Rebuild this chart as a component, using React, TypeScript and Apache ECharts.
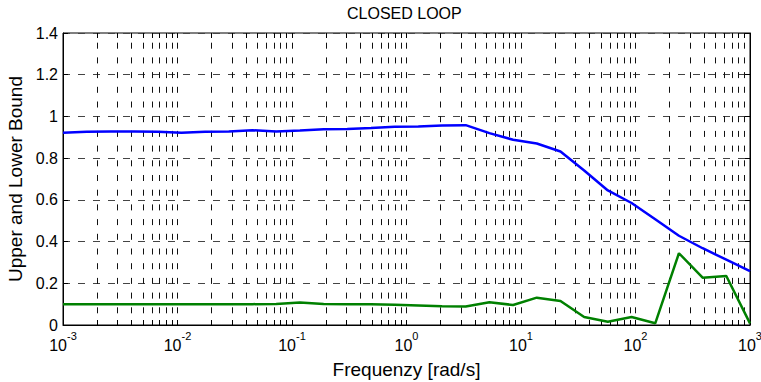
import React, { useEffect, useRef } from "react";
import * as echarts from "echarts";

// Frequency points [rad/s] (30 log-spaced samples between 1e-3 and 1e3)
const FREQUENCY = [
  0.001, 0.00161, 0.002593, 0.004175, 0.006723, 0.01083, 0.01743, 0.02807,
  0.0452, 0.07279, 0.1172, 0.1887, 0.3039, 0.4894, 0.788, 1.269, 2.043, 3.29,
  5.298, 8.532, 13.74, 22.12, 35.62, 57.36, 92.37, 148.7, 239.5, 385.7, 621.1,
  1000,
];

// Upper bound of the closed-loop response
const UPPER_BOUND = [
  0.922, 0.927, 0.928, 0.928, 0.927, 0.922, 0.926, 0.928, 0.934, 0.928, 0.932,
  0.938, 0.94, 0.945, 0.951, 0.952, 0.957, 0.958, 0.92, 0.888, 0.87, 0.832,
  0.741, 0.645, 0.585, 0.507, 0.428, 0.368, 0.313, 0.258,
];

// Lower bound of the closed-loop response
const LOWER_BOUND = [
  0.1, 0.1, 0.1, 0.1, 0.1, 0.1, 0.1, 0.1, 0.1, 0.101, 0.108, 0.101, 0.1, 0.099,
  0.097, 0.094, 0.09, 0.089, 0.109, 0.096, 0.131, 0.115, 0.038, 0.016, 0.038,
  0.008, 0.344, 0.227, 0.235, 0.008,
];

// Axis ranges and grid subdivisions
const X_DECADES = [1e-3, 1e-2, 1e-1, 1, 10, 100, 1000];
const X_GRID_MULTIPLIERS = [1, 2, 3, 4, 5, 6, 7, 8, 9];
const Y_MIN = 0;
const Y_MAX = 1.4;
const Y_STEP = 0.2;

const TITLE = "CLOSED LOOP";
const X_NAME = "Frequenzy [rad/s]";
const Y_NAME = "Upper and Lower Bound";

const FONT = "'Liberation Sans', Arial, Helvetica, sans-serif";

// Every 1..9 x 10^n position strictly inside the x range
const gridPositions: number[] = [];
X_DECADES.slice(0, -1).forEach((d, di) => {
  X_GRID_MULTIPLIERS.forEach((m) => {
    if (di === 0 && m === 1) return;
    gridPositions.push(m * d);
  });
});

export default function App() {
  const ref = useRef<HTMLDivElement>(null);

  useEffect(() => {
    const chart = echarts.init(ref.current!, null, { renderer: "svg" });

    const option: any = {
      animation: false,
      backgroundColor: "#fff",
      title: {
        text: TITLE,
        left: 347,
        top: 5,
        padding: 0,
        textStyle: {
          fontFamily: FONT,
          fontSize: 16,
          fontWeight: "normal",
          color: "#000",
        },
      },
      grid: {
        left: 63,
        top: 33,
        width: 687,
        height: 292,
        containLabel: false,
        outerBoundsMode: "none",
        show: true,
        borderColor: "#000",
        borderWidth: 1,
        backgroundColor: "transparent",
      },
      xAxis: {
        type: "log",
        logBase: 10,
        min: X_DECADES[0],
        max: X_DECADES[X_DECADES.length - 1],
        splitNumber: 6,
        name: X_NAME,
        nameLocation: "middle",
        nameGap: 35,
        nameTextStyle: { fontFamily: FONT, fontSize: 19, color: "#000" },
        axisLine: { show: true, lineStyle: { color: "#000", width: 1 } },
        axisTick: { show: false },
        minorTick: { show: false },
        splitLine: { show: false },
        axisLabel: {
          margin: 8,
          showMinLabel: true,
          showMaxLabel: true,
          hideOverlap: false,
          formatter: (v: number) => {
            const e = Math.round(Math.log10(v));
            return `{b|10}{s|${e}}`;
          },
          rich: {
            b: {
              fontFamily: FONT,
              fontSize: 16,
              lineHeight: 17,
              color: "#000",
              padding: [8, 0, 0, 0],
            },
            s: {
              fontFamily: FONT,
              fontSize: 11,
              lineHeight: 12,
              color: "#000",
              padding: [0, 0, 11, 0],
            },
          },
        },
      },
      yAxis: [
        {
          type: "value",
          min: Y_MIN,
          max: Y_MAX,
          interval: Y_STEP,
          name: Y_NAME,
          nameLocation: "middle",
          nameGap: 36,
          nameTextStyle: { fontFamily: FONT, fontSize: 19, color: "#000" },
          axisLine: { show: true, lineStyle: { color: "#000", width: 1 } },
          axisTick: {
            show: true,
            inside: true,
            length: 5,
            lineStyle: { color: "#000" },
          },
          axisLabel: {
            fontFamily: FONT,
            fontSize: 16,
            color: "#000",
            margin: 5,
          },
          splitLine: {
            show: true,
            lineStyle: { color: "#444", width: 1, type: [7, 8] },
          },
        },
        {
          type: "value",
          position: "right",
          min: Y_MIN,
          max: Y_MAX,
          interval: Y_STEP,
          axisLine: { show: true, lineStyle: { color: "#000", width: 1 } },
          axisTick: {
            show: true,
            inside: true,
            length: 5,
            lineStyle: { color: "#000" },
          },
          axisLabel: { show: false },
          splitLine: { show: false },
        },
      ],
      series: [
        {
          // vertical log grid lines with inward ticks at top and bottom
          type: "custom",
          silent: true,
          clip: false,
          z: 1,
          data: gridPositions.map((x) => [x, Y_MIN]),
          encode: { x: 0, y: 1 },
          renderItem: (params: any, api: any) => {
            const cs = params.coordSys;
            const raw = api.coord([api.value(0), Y_MIN])[0];
            const px = Math.round(raw - 0.5) + 0.5;
            const top = cs.y;
            const bottom = cs.y + cs.height;
            return {
              type: "group",
              children: [
                {
                  type: "line",
                  shape: { x1: px, y1: bottom, x2: px, y2: top },
                  style: {
                    stroke: "#111",
                    lineWidth: 1,
                    lineDash: [6, 8.7],
                    lineDashOffset: 3,
                  },
                },
                {
                  type: "line",
                  shape: { x1: px, y1: bottom, x2: px, y2: bottom - 5 },
                  style: { stroke: "#000", lineWidth: 1 },
                },
                {
                  type: "line",
                  shape: { x1: px, y1: top, x2: px, y2: top + 5 },
                  style: { stroke: "#000", lineWidth: 1 },
                },
              ],
            };
          },
        },
        {
          name: "Upper bound",
          type: "line",
          data: FREQUENCY.map((f, i) => [f, UPPER_BOUND[i]]),
          symbol: "none",
          showSymbol: false,
          z: 5,
          lineStyle: { color: "#0000ff", width: 2.5 },
        },
        {
          name: "Lower bound",
          type: "line",
          data: FREQUENCY.map((f, i) => [f, LOWER_BOUND[i]]),
          symbol: "none",
          showSymbol: false,
          z: 5,
          lineStyle: { color: "#008000", width: 2.5 },
        },
      ],
    };

    chart.setOption(option);
    return () => chart.dispose();
  }, []);

  return (
    <div
      ref={ref}
      style={{
        position: "fixed",
        left: 0,
        top: 0,
        width: 761,
        height: 382,
        background: "#fff",
      }}
    />
  );
}
